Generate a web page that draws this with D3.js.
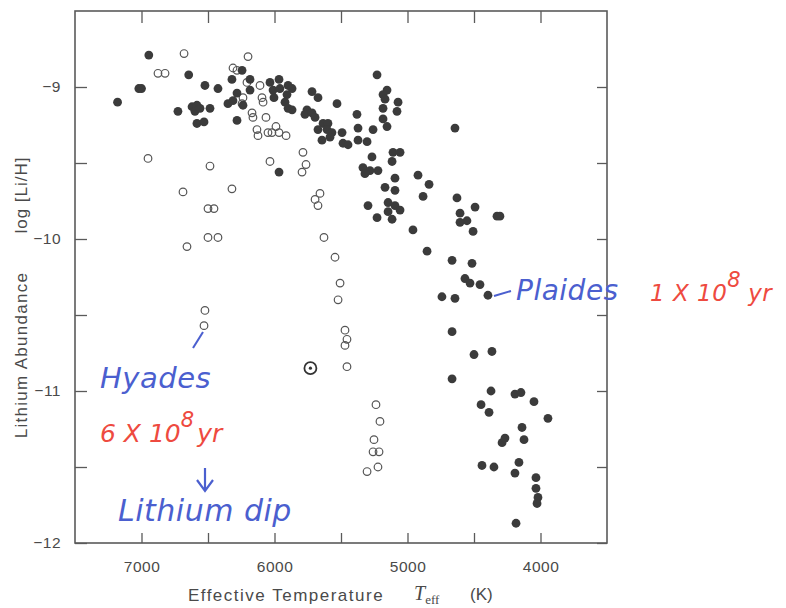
<!DOCTYPE html>
<html>
<head>
<meta charset="utf-8">
<script src="https://cdn.jsdelivr.net/npm/d3@7"></script>
<style>
  body { margin: 0; background: #fff; }
  svg { display: block; }
  .tick text { font-family: "Liberation Sans", Arial, sans-serif; font-size: 15.5px; fill: #4a4a4a; letter-spacing: 0.5px; }
  .hand { font-family: "DejaVu Sans", sans-serif; font-style: italic; font-weight: 300; }
</style>
</head>
<body>
<div id="chart"></div>
<script>
// Pleiades (filled): Teff (K), log [Li/H]
const pleiadesTeff = [7180, 7020, 7000, 6945, 6645, 6523, 6425, 6726, 6620, 6583, 6598, 6560, 6485, 6583, 6530,
  6282, 6350, 6312, 6320, 6282, 6244, 6237, 6184, 6184, 6034, 6011, 5966, 6004, 5959, 5898, 5868, 5906, 5921,
  5898, 5868, 5718, 5673, 5530, 5756, 5771, 5718, 5695, 5635, 5598, 5673, 5605, 5568, 5643, 5583, 5380, 5372,
  5372, 5304, 5492, 5485, 5447, 5259, 5966, 5229, 5154, 5184, 5169, 5071, 5079, 5184, 5184, 5154, 4643, 5267,
  5109, 5056, 5116, 5335, 5282, 5222, 5320, 5094, 4921, 4838, 5169, 5094, 4883, 4628, 5297, 5146, 5094, 5056,
  5146, 5116, 5229, 4959, 4492, 4605, 4553, 4605, 4507, 4327, 4305, 4853, 4665, 4515, 4568, 4530, 4455, 4395,
  4741, 4643, 4665, 4500, 4365, 4665, 4372, 4447, 4387, 4192, 4147, 4049, 3944, 4139, 4124, 4289, 4267, 4440,
  4350, 4162, 4192, 4034, 4034, 4019, 4026, 4184];
const pleiadesLi = [-9.10, -9.01, -9.01, -8.79, -8.92, -8.99, -9.01, -9.16, -9.13, -9.12, -9.16, -9.14, -9.14, -9.24, -9.23,
  -9.22, -9.11, -9.09, -8.95, -9.04, -8.89, -9.12, -8.95, -9.02, -8.97, -9.02, -8.95, -9.07, -9.01, -8.99, -9.01, -9.05, -9.10,
  -9.14, -9.15, -9.03, -9.07, -9.11, -9.15, -9.18, -9.17, -9.20, -9.24, -9.24, -9.28, -9.28, -9.30, -9.35, -9.33, -9.18, -9.27,
  -9.35, -9.36, -9.30, -9.37, -9.38, -9.28, -9.56, -8.92, -9.02, -9.05, -9.08, -9.10, -9.16, -9.14, -9.21, -9.26, -9.27, -9.46,
  -9.43, -9.43, -9.49, -9.53, -9.55, -9.55, -9.57, -9.60, -9.58, -9.64, -9.66, -9.68, -9.72, -9.73, -9.78, -9.76, -9.78, -9.81,
  -9.82, -9.87, -9.86, -9.94, -9.79, -9.83, -9.88, -9.89, -9.95, -9.85, -9.85, -10.08, -10.14, -10.16, -10.26, -10.29, -10.30, -10.37,
  -10.38, -10.39, -10.61, -10.76, -10.74, -10.92, -11.00, -11.09, -11.14, -11.02, -11.01, -11.07, -11.18, -11.24, -11.32, -11.34, -11.31, -11.49,
  -11.50, -11.47, -11.54, -11.57, -11.64, -11.70, -11.74, -11.87];

// Hyades (open)
const hyadesTeff = [6680, 6199, 6876, 6823, 6312, 6282, 6207, 6237, 6244, 6109, 6094, 6086, 6169, 6162, 6064, 6132,
  6124, 6049, 6019, 5989, 5966, 5913, 6951, 6485, 6034, 5786, 5763, 5793, 6688, 6320, 5658, 5695, 5673, 6500,
  6455, 6500, 6425, 6658, 5628, 5545, 5507, 5522, 5470, 5455, 5470, 5455, 6523, 6530, 5237, 5207, 5252, 5259,
  5214, 5304, 5222];
const hyadesLi = [-8.78, -8.80, -8.91, -8.91, -8.875, -8.89, -8.97, -9.07, -9.11, -8.99, -9.07, -9.10, -9.17, -9.20, -9.20, -9.28,
  -9.32, -9.30, -9.30, -9.26, -9.30, -9.32, -9.47, -9.52, -9.49, -9.43, -9.51, -9.56, -9.69, -9.67, -9.70, -9.74, -9.78, -9.80,
  -9.80, -9.99, -9.99, -10.05, -9.99, -10.12, -10.29, -10.40, -10.60, -10.66, -10.70, -10.84, -10.47, -10.57, -11.09, -11.20, -11.32, -11.40,
  -11.40, -11.53, -11.50];

// Sun
const sunTeff = [5730];
const sunLi = [-10.85];

const xTicks = [7000, 6500, 6000, 5500, 5000, 4500, 4000];
const xLabels = [7000, 6000, 5000, 4000];
const yTicks = [-12, -11.5, -11, -10.5, -10, -9.5, -9];
const yLabels = [-12, -11, -10, -9];

const W = 786, H = 608;
const L = 75, R = 607, T = 11, B = 543;

const svg = d3.select('#chart').append('svg')
  .attr('width', W).attr('height', H);

const x = d3.scaleLinear().domain([7500, 3500]).range([L, R]);
const y = d3.scaleLinear().domain([-12, -8.5]).range([B, T]);

const axisColor = '#5a5a5a';
const fmtMinus = v => String(v).replace('-', '\u2212');

// axes, ticks pointing inward
svg.append('g').attr('transform', `translate(0,${B})`)
  .call(d3.axisBottom(x).tickValues(xTicks).tickSizeInner(-10).tickSizeOuter(0).tickPadding(18)
    .tickFormat(d => xLabels.includes(d) ? d : ''));
svg.append('g').attr('transform', `translate(0,${T})`)
  .call(d3.axisTop(x).tickValues(xTicks).tickSizeInner(-12).tickSizeOuter(0).tickFormat(''));
svg.append('g').attr('transform', `translate(${L},0)`)
  .call(d3.axisLeft(y).tickValues(yTicks).tickSizeInner(-12).tickSizeOuter(0).tickPadding(14)
    .tickFormat(d => yLabels.includes(d) ? fmtMinus(d) : ''));
svg.append('g').attr('transform', `translate(${R},0)`)
  .call(d3.axisRight(y).tickValues(yTicks).tickSizeInner(-10).tickSizeOuter(0).tickFormat(''));

svg.selectAll('.domain').remove();
svg.selectAll('.tick line').attr('stroke', axisColor).attr('stroke-width', 1.3);

svg.append('rect')
  .attr('x', L).attr('y', T).attr('width', R - L).attr('height', B - T)
  .attr('fill', 'none').attr('stroke', axisColor).attr('stroke-width', 1.6);

// axis titles
const lblFont = '"Liberation Sans", Arial, sans-serif';
svg.append('text')
  .attr('transform', 'translate(27,355) rotate(-90)')
  .attr('text-anchor', 'middle')
  .attr('font-family', lblFont).attr('font-size', 17).attr('fill', '#4a4a4a')
  .attr('letter-spacing', 1.3)
  .text('Lithium Abundance');
svg.append('text')
  .attr('transform', 'translate(27,195) rotate(-90)')
  .attr('text-anchor', 'middle')
  .attr('font-family', lblFont).attr('font-size', 17).attr('fill', '#4a4a4a')
  .attr('letter-spacing', 1)
  .text('log [Li/H]');

svg.append('text')
  .attr('x', 286).attr('y', 601)
  .attr('text-anchor', 'middle')
  .attr('font-family', lblFont).attr('font-size', 17).attr('fill', '#4a4a4a')
  .attr('letter-spacing', 1.5)
  .text('Effective Temperature');
const teff = svg.append('text')
  .attr('x', 414).attr('y', 600)
  .attr('font-family', '"Liberation Serif", serif').attr('font-size', 20).attr('fill', '#4a4a4a');
teff.append('tspan').attr('font-style', 'italic').text('T');
teff.append('tspan').attr('dy', 4).attr('font-size', 13).text('eff');
svg.append('text')
  .attr('x', 470).attr('y', 600)
  .attr('font-family', lblFont).attr('font-size', 17).attr('fill', '#4a4a4a')
  .text('(K)');

// data points
svg.append('g').selectAll('circle')
  .data(hyadesTeff.map((t, i) => [t, hyadesLi[i]]))
  .join('circle')
  .attr('cx', d => x(d[0])).attr('cy', d => y(d[1]))
  .attr('r', 3.8)
  .attr('fill', 'none').attr('stroke', '#555').attr('stroke-width', 1.2);

svg.append('g').selectAll('circle')
  .data(pleiadesTeff.map((t, i) => [t, pleiadesLi[i]]))
  .join('circle')
  .attr('cx', d => x(d[0])).attr('cy', d => y(d[1]))
  .attr('r', 4.4)
  .attr('fill', '#3b3b3b');

// sun symbol
const sun = svg.append('g').selectAll('g')
  .data(sunTeff.map((t, i) => [t, sunLi[i]]))
  .join('g')
  .attr('transform', d => `translate(${x(d[0])},${y(d[1])})`);
sun.append('circle').attr('r', 6).attr('fill', 'none').attr('stroke', '#333').attr('stroke-width', 1.8);
sun.append('circle').attr('r', 1.6).attr('fill', '#333');

// handwritten notes
const blue = '#4b5fcf', red = '#ee4a40';
function note(tx, ty, txt, color, size, ls) {
  return svg.append('text').attr('class', 'hand')
    .attr('x', tx).attr('y', ty)
    .attr('font-size', size).attr('fill', color)
    .attr('letter-spacing', ls)
    .text(txt);
}
note(516, 300, 'Plaides', blue, 28, 0.5);
const p = note(650, 301, '1 X 10', red, 23, 0.5);
p.append('tspan').attr('dy', -14).attr('font-size', 21).text('8');
p.append('tspan').attr('dy', 14).attr('dx', 7).text('yr');

note(100, 388, 'Hyades', blue, 29, 0.5);
const h = note(100, 442, '6 X 10', red, 25, 0);
h.append('tspan').attr('dy', -15).attr('font-size', 21).text('8');
h.append('tspan').attr('dy', 15).attr('dx', 3).text('yr');
note(118, 521, 'Lithium dip', blue, 30, 0.5);

// pointers
svg.append('path').attr('d', 'M494,296 L511,291')
  .attr('stroke', blue).attr('stroke-width', 2).attr('fill', 'none');
svg.append('path').attr('d', 'M193,348 L203,332')
  .attr('stroke', blue).attr('stroke-width', 2).attr('fill', 'none');
svg.append('path').attr('d', 'M205,468 L205,490 M197,480 L205,491 L213,480')
  .attr('stroke', blue).attr('stroke-width', 2.2).attr('fill', 'none');
</script>
</body>
</html>
